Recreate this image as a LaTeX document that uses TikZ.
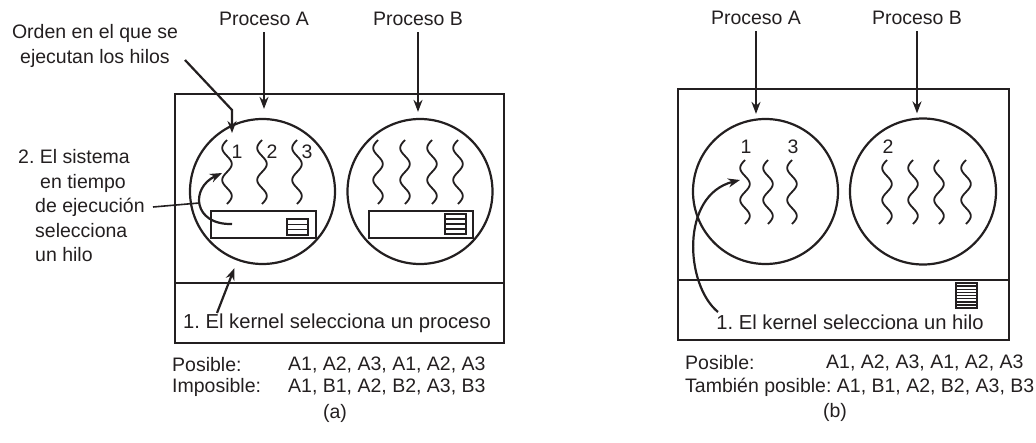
\documentclass[tikz,border=0pt]{standalone}
\usepackage{fontspec}
\setmainfont{Liberation Sans}
\usepackage{tikz}
\usetikzlibrary{arrows.meta,calc}
\definecolor{ink}{HTML}{231F20}
\frenchspacing
\tikzset{
  caja/.style={rectangle, draw=ink, line width=2.2pt, inner sep=0pt},
  proc/.style={circle, draw=ink, line width=2.2pt, minimum size=#1, inner sep=0pt},
  txt/.style={font=\fontsize{19.5}{24.5}\selectfont, text=ink, inner sep=2pt},
  ktxt/.style={txt, font=\fontsize{20.2}{24.5}\selectfont},
  num/.style={font=\fontsize{19.5}{24}\selectfont, text=ink, inner sep=0pt},
  ar/.style={-{Stealth[length=12pt,width=9pt]}, line width=2.2pt, draw=ink},
  hilo/.style={draw=ink, line width=1.8pt},
  guia/.style={draw=ink, line width=1.6pt},
}
\newcommand{\hebra}[2]{\draw[hilo] plot[domain=0:64, samples=41, smooth] ({#1-4.8*sin(\x*11.25)}, {#2+\x});}
\newcommand{\pila}[5]{%
  \draw[ink, line width=1.8pt] (#1,#2) rectangle (#3,#4);
  \foreach \k in {1,...,#5}
    \draw[ink, line width=1.5pt] (#1,{#2+\k*(#4-#2)/(#5+1)}) -- (#3,{#2+\k*(#4-#2)/(#5+1)});}

\begin{document}
\begin{tikzpicture}[x=1pt, y=-1pt]
  \useasboundingbox (0,0) rectangle (1036,442);

  % (a)
  \node[caja, minimum width=329pt, minimum height=189pt] (uA) at (339.5,188.5) {};
  \node[caja, minimum width=329pt, minimum height=60pt] (kA) at (339.5,313) {};
  \node[proc=145pt] (pA) at (262.5,191.5) {};
  \node[proc=145pt] (pB) at (420,191.5) {};
  \node[caja, line width=1.9pt, minimum width=105pt, minimum height=27pt] (rA) at (263.5,224.5) {};
  \node[caja, line width=1.9pt, minimum width=104pt, minimum height=27pt] (rB) at (421,224.5) {};
  \pila{287}{219}{308}{235}{2}
  \pila{445}{214}{466}{234}{3}
  \foreach \hx in {227,262,297} {\hebra{\hx}{140}}
  \foreach \hx in {378,405,432,458} {\hebra{\hx}{140}}
  \node[num] (a1) at (237,152) {1};
  \node[num] (a2) at (272,152) {2};
  \node[num] (a3) at (307,152) {3};

  \node[txt] (tA) at (264,19) {Proceso A};
  \node[txt] (tB) at (418,19) {Proceso B};
  \node[txt, align=center] (orden) at (95,46) {Orden en el que se\\ejecutan los hilos};
  \node[txt, align=left, anchor=west] (sis) at (16,206)
       {2. El sistema\\\hspace*{22pt}en tiempo\\\hspace*{17pt}de ejecución\\\hspace*{17pt}selecciona\\\hspace*{17pt}un hilo};
  \node[ktxt] (ktA) at (337,323) {1. El kernel selecciona un proceso};
  \node[txt, anchor=west] (posA) at (170,365) {Posible:};
  \node[txt, anchor=west] (posAv) at (286,365) {A1, A2, A3, A1, A2, A3};
  \node[txt, anchor=west] (impA) at (170,387) {Imposible:};
  \node[txt, anchor=west] (impAv) at (286,387) {A1, B1, A2, B2, A3, B3};
  \node[txt] (capA) at (335,413) {(a)};

  \coordinate (o0) at (185,60);
  \coordinate (o1) at (232,110);
  \coordinate (o2) at (232,133);
  \coordinate (k0) at (217,313);
  \coordinate (s1) at (153,207);
  \coordinate (s2) at (199,203);
  \coordinate (c0) at (232,224);
  \coordinate (c1) at (222,173);

  \draw[ar, shorten <=4pt, shorten >=9pt] (tA) -- (tA |- pA.north);
  \draw[ar, shorten <=4pt, shorten >=6pt] (tB) -- (tB |- pB.north);
  \draw[ar] (o0) -- (o1) -- (o2);
  \draw[ar, shorten >=8pt] (k0) -- (pA.250);
  \draw[guia] (s1) -- (s2);
  \draw[ar] (c0) .. controls (193,225) and (190,188) .. (c1);

  % (b)
  \node[caja, minimum width=331pt, minimum height=191pt] (uB) at (843.5,184.5) {};
  \node[caja, minimum width=331pt, minimum height=60pt] (kB) at (843.5,310) {};
  \node[proc=145pt] (qA) at (765.5,191.5) {};
  \node[proc=146pt] (qB) at (923,191.5) {};
  \pila{956}{283}{977}{308}{7}
  \foreach \hx in {745,768,792} {\hebra{\hx}{160}}
  \foreach \hx in {887,913,939,966} {\hebra{\hx}{160}}
  \node[num] (b1) at (746,147) {1};
  \node[num] (b3) at (793,147) {3};
  \node[num] (b2) at (888,147) {2};

  \node[txt] (tA2) at (756,18) {Proceso A};
  \node[txt] (tB2) at (917,18) {Proceso B};
  \node[ktxt] (ktB) at (850,322) {1. El kernel selecciona un hilo};
  \node[txt, anchor=west] (posB) at (683,363) {Posible:};
  \node[txt, anchor=west] (posBv) at (824,363) {A1, A2, A3, A1, A2, A3};
  \node[txt, anchor=west] (tamB) at (683,387) {También posible: A1, B1, A2, B2, A3, B3};
  \node[txt] (capB) at (835,412) {(b)};

  \coordinate (d0) at (718,312);
  \coordinate (d1) at (740,180);

  \draw[ar, shorten <=4pt, shorten >=4pt] (tA2) -- (tA2 |- qA.north);
  \draw[ar, shorten <=4pt, shorten >=4pt] (tB2) -- (tB2 |- qB.north);
  \draw[ar] (d0) .. controls (685,285) and (680,195) .. (d1);
\end{tikzpicture}
\end{document}
